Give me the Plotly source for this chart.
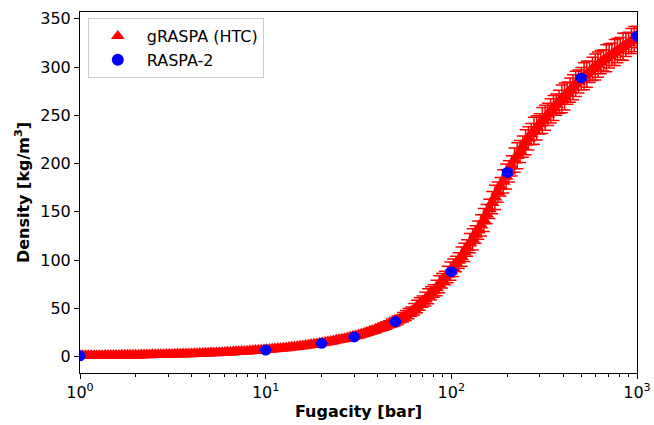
import plotly.graph_objects as go

# gRASPA (HTC) data (two interleaved reading passes)
graspa_f_a = [1.000, 1.072, 1.148, 1.230, 1.318, 1.413, 1.514, 1.622, 1.738, 1.862,
              1.995, 2.138, 2.291, 2.455, 2.630, 2.818, 3.020, 3.236, 3.467, 3.715,
              3.981, 4.266, 4.571, 4.898, 5.248, 5.623, 6.026, 6.457, 6.918, 7.413,
              7.943, 8.511, 9.120, 9.772, 10.47, 11.22, 12.02, 12.88, 13.80, 14.79,
              15.85, 16.98, 18.20, 19.50, 20.89, 22.39, 23.99, 25.70, 27.54, 29.51,
              31.62, 33.88, 36.31, 38.90, 41.69, 44.67, 47.86, 51.29, 54.95, 58.88,
              63.10, 67.61, 72.44, 77.62, 83.18, 89.13, 95.50, 102.3, 109.6, 117.5,
              125.9, 134.9, 144.5, 154.9, 166.0, 177.8, 190.5, 204.2, 218.8, 234.4,
              251.2, 269.2, 288.4, 309.0, 331.1, 354.8, 380.2, 407.4, 436.5, 467.7,
              501.2, 537.0, 575.4, 616.6, 660.7, 707.9, 758.6, 812.8, 871.0, 933.3,
              1000.0]
graspa_d_a = [0.8, 0.9, 0.9, 1.0, 1.0, 1.1, 1.1, 1.2, 1.3, 1.4,
              1.5, 1.6, 1.7, 1.8, 1.9, 2.0, 2.2, 2.3, 2.5, 2.7,
              2.8, 3.0, 3.2, 3.5, 3.7, 4.0, 4.2, 4.5, 4.9, 5.2,
              5.6, 6.0, 6.4, 6.8, 7.3, 7.8, 8.4, 9.0, 9.6, 10.3,
              11.0, 11.8, 12.7, 13.6, 14.6, 15.6, 16.8, 18.0, 19.3, 20.7,
              22.2, 24.0, 25.9, 27.8, 30.0, 32.3, 34.8, 37.6, 40.8, 44.5,
              49.0, 54.5, 59.5, 65.5, 71.0, 78.5, 85.0, 92.0, 99.5, 108.0,
              117.5, 126.5, 136.0, 147.5, 159.5, 170.5, 181.5, 192.0, 203.5, 212.5,
              222.0, 230.5, 237.0, 244.5, 251.0, 257.5, 264.0, 269.5, 276.0, 282.5,
              288.0, 292.5, 298.0, 302.5, 307.0, 311.5, 315.0, 319.0, 323.0, 327.0,
              331.0]
graspa_err_a = [0.3, 0.3, 0.4, 0.3, 0.4, 0.4, 0.3, 0.4, 0.4, 0.5,
                0.4, 0.5, 0.5, 0.5, 0.6, 0.5, 0.6, 0.6, 0.6, 0.7,
                0.6, 0.7, 0.7, 0.8, 0.7, 0.8, 0.8, 0.9, 0.8, 0.9,
                1.0, 0.9, 1.0, 1.1, 1.1, 1.2, 1.2, 1.3, 1.4, 1.4,
                1.5, 1.6, 1.7, 1.8, 1.9, 2.0, 2.1, 2.2, 2.4, 2.5,
                2.7, 2.9, 3.1, 3.3, 3.6, 3.9, 4.2, 4.5, 5.0, 5.4,
                6.0, 6.5, 7.2, 6.8, 8.0, 7.5, 8.5, 9.0, 8.2, 9.5,
                10.0, 9.0, 11.0, 10.0, 11.5, 10.5, 12.0, 11.0, 12.5, 11.5,
                13.0, 11.0, 12.5, 13.5, 11.5, 13.0, 12.0, 14.0, 12.5, 13.0,
                11.5, 13.5, 12.0, 13.0, 11.0, 12.5, 13.5, 11.5, 12.0, 13.0,
                11.0]

graspa_f_b = [1.035, 1.109, 1.189, 1.274, 1.365, 1.462, 1.567, 1.679, 1.799, 1.928,
              2.065, 2.213, 2.371, 2.541, 2.723, 2.917, 3.126, 3.350, 3.589, 3.846,
              4.121, 4.416, 4.732, 5.070, 5.433, 5.821, 6.237, 6.683, 7.161, 7.674,
              8.222, 8.810, 9.441, 10.12, 10.84, 11.61, 12.45, 13.34, 14.29, 15.31,
              16.41, 17.58, 18.84, 20.18, 21.63, 23.17, 24.83, 26.61, 28.51, 30.55,
              32.73, 35.08, 37.58, 40.27, 43.15, 46.24, 49.55, 53.09, 56.89, 60.95,
              65.31, 69.98, 74.99, 80.35, 86.10, 92.26, 98.86, 105.9, 113.5, 121.6,
              130.3, 139.6, 149.6, 160.3, 171.8, 184.1, 197.2, 211.3, 226.5, 242.7,
              260.0, 278.6, 298.5, 319.9, 342.8, 367.3, 393.6, 421.7, 451.9, 484.2,
              518.8, 555.9, 595.7, 638.3, 683.9, 732.8, 785.2, 841.4, 901.6, 966.1]
graspa_d_b = [0.8, 0.9, 1.0, 1.0, 1.1, 1.1, 1.2, 1.3, 1.3, 1.4,
              1.5, 1.6, 1.7, 1.8, 2.0, 2.1, 2.2, 2.4, 2.6, 2.7,
              2.9, 3.1, 3.4, 3.6, 3.8, 4.1, 4.4, 4.7, 5.0, 5.4,
              5.8, 6.2, 6.6, 7.0, 7.6, 8.1, 8.7, 9.3, 10.0, 10.6,
              11.4, 12.2, 13.1, 14.1, 15.1, 16.2, 17.4, 18.6, 20.0, 21.4,
              23.1, 24.9, 26.8, 28.9, 31.1, 33.6, 36.2, 39.1, 42.6, 46.6,
              51.8, 57.0, 62.5, 68.0, 75.0, 81.5, 88.5, 96.0, 103.5, 112.5,
              121.5, 131.0, 141.5, 153.0, 165.0, 176.0, 186.5, 197.5, 208.0, 217.5,
              226.0, 234.0, 241.0, 247.5, 254.5, 261.0, 267.0, 273.0, 279.0, 285.0,
              290.5, 295.0, 300.0, 305.0, 309.0, 313.0, 317.0, 321.0, 325.0, 329.0]
graspa_err_b = [0.3, 0.4, 0.3, 0.4, 0.4, 0.3, 0.4, 0.5, 0.4, 0.5,
                0.5, 0.4, 0.6, 0.5, 0.6, 0.6, 0.5, 0.7, 0.6, 0.7,
                0.7, 0.8, 0.7, 0.8, 0.8, 0.9, 0.8, 0.9, 1.0, 0.9,
                1.0, 1.1, 1.0, 1.2, 1.1, 1.3, 1.2, 1.4, 1.3, 1.5,
                1.6, 1.5, 1.8, 1.7, 2.0, 1.9, 2.2, 2.1, 2.5, 2.4,
                2.8, 2.7, 3.2, 3.0, 3.8, 3.5, 4.4, 4.0, 5.2, 4.8,
                6.5, 5.8, 7.8, 6.5, 8.8, 7.0, 9.5, 8.0, 10.0, 8.5,
                11.0, 9.5, 12.0, 10.0, 12.5, 9.5, 13.0, 10.5, 13.5, 11.0,
                12.0, 14.0, 10.5, 13.0, 12.5, 11.0, 14.5, 11.5, 13.0, 12.0,
                14.0, 11.0, 13.5, 12.0, 14.0, 11.5, 12.5, 14.0, 11.0, 13.0]

# RASPA-2 data
raspa_f = [1, 10, 20, 30, 50, 100, 200, 500, 1000]
raspa_d = [0.8, 6.8, 13.8, 20.4, 36.3, 88.0, 190.8, 288.7, 332.0]
raspa_err = [0.1, 0.3, 0.5, 0.6, 1.0, 2.0, 2.5, 2.0, 2.0]

x_tickvals = [1, 10, 100, 1000]
x_ticktext = ["10<sup>0</sup>", "10<sup>1</sup>", "10<sup>2</sup>", "10<sup>3</sup>"]
x_minor = [2, 3, 4, 5, 6, 7, 8, 9, 20, 30, 40, 50, 60, 70, 80, 90,
           200, 300, 400, 500, 600, 700, 800, 900]
y_tickvals = [0, 50, 100, 150, 200, 250, 300, 350]

graspa_f = graspa_f_a + graspa_f_b
graspa_d = graspa_d_a + graspa_d_b
graspa_err = graspa_err_a + graspa_err_b

fig = go.Figure()
fig.add_trace(go.Scatter(
    x=graspa_f, y=graspa_d, mode="markers", name="gRASPA (HTC)",
    marker=dict(symbol="triangle-up", size=13, color="red", line=dict(width=0)),
    error_y=dict(type="data", array=graspa_err, visible=True, color="red",
                 thickness=1.5, width=6),
))
fig.add_trace(go.Scatter(
    x=raspa_f, y=raspa_d, mode="markers", name="RASPA-2",
    marker=dict(symbol="circle", size=11, color="blue", line=dict(width=0)),
    error_y=dict(type="data", array=raspa_err, visible=True, color="blue",
                 thickness=1.5, width=6),
))

axis_font = dict(family="DejaVu Sans", size=16, color="black")
fig.update_layout(
    width=654, height=425,
    margin=dict(l=80, r=17, t=12, b=52),
    paper_bgcolor="white", plot_bgcolor="white",
    font=dict(family="DejaVu Sans", size=16, color="black"),
    showlegend=True,
    legend=dict(x=0.014, y=0.983, xanchor="left", yanchor="top",
                bgcolor="rgba(255,255,255,0.8)", bordercolor="#cccccc",
                borderwidth=1, font=dict(family="DejaVu Sans", size=16, color="black"),
                tracegroupgap=0, itemsizing="constant", itemwidth=48),
    xaxis=dict(type="log", range=[0, 3], showgrid=False, zeroline=False,
               automargin=False,
               showline=True, linecolor="black", linewidth=1, mirror=True,
               ticks="outside", ticklen=5, tickcolor="black",
               tickvals=x_tickvals, ticktext=x_ticktext, tickfont=axis_font,
               minor=dict(ticks="outside", ticklen=3, tickcolor="black",
                          tickvals=x_minor, showgrid=False),
               title=dict(text="<b>Fugacity [bar]</b>", font=axis_font, standoff=4)),
    yaxis=dict(range=[-17, 357], showgrid=False, zeroline=False,
               automargin=False,
               showline=True, linecolor="black", linewidth=1, mirror=True,
               ticks="outside", ticklen=5, tickcolor="black",
               tickvals=y_tickvals, tickfont=axis_font,
               title=dict(text="<b>Density [kg/m<sup>3</sup>]</b>", font=axis_font, standoff=6)),
)

fig.write_html("out.html", config={"displayModeBar": False},
               post_script="document.body.style.margin='0px';document.body.style.overflow='hidden';")
